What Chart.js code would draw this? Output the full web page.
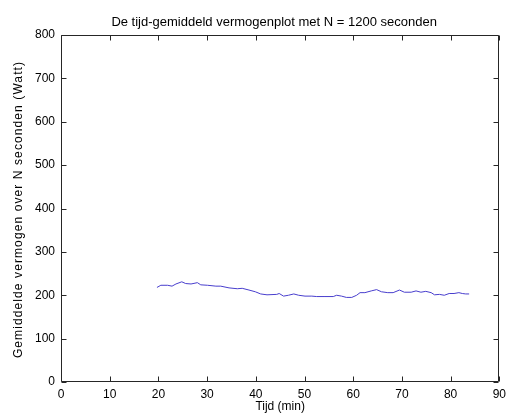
<!DOCTYPE html>
<html>
<head>
<meta charset="utf-8">
<script src="https://cdn.jsdelivr.net/npm/chart.js@4/dist/chart.umd.min.js"></script>
<style>
  html, body { margin: 0; padding: 0; background: #fff; }
  #wrap { width: 511px; height: 419px; }
</style>
</head>
<body>
<div id="wrap"><canvas id="c" width="511" height="419"></canvas></div>
<script>
// Tijd (min) en tijd-gemiddeld vermogen (Watt)
const tijd = [19.7, 20.5, 21.9, 22.8, 23.6, 24.8, 25.6, 26.7, 28.0, 28.7, 30.1, 31.8, 32.8, 34.5, 36.2, 37.2, 38.6, 39.9, 41.0, 42.3, 44.3, 44.8, 45.7, 46.7, 47.8, 48.8, 50.1, 51.5, 52.5, 54.2, 55.9, 56.6, 57.6, 58.6, 59.7, 60.7, 61.4, 62.4, 63.7, 64.8, 65.8, 67.1, 68.2, 69.5, 70.5, 71.9, 72.9, 73.9, 74.9, 76.0, 76.7, 77.7, 78.7, 79.7, 80.7, 81.7, 82.4, 83.1, 83.8];
const vermogen = [218, 223, 223, 221, 226, 231, 227, 226, 229, 224, 223, 221, 221, 217, 215, 216, 212, 208, 203, 201, 202, 204, 198, 200, 203, 200, 198, 198, 197, 197, 197, 200, 198, 195, 195, 200, 206, 206, 210, 213, 208, 206, 206, 212, 207, 207, 210, 207, 209, 206, 201, 202, 200, 204, 204, 206, 204, 203, 203];
const xTicks = [0, 10, 20, 30, 40, 50, 60, 70, 80, 90];
const yTicks = [0, 100, 200, 300, 400, 500, 600, 700, 800];

const titel = 'De tijd-gemiddeld vermogenplot met N = 1200 seconden';
const xTitel = 'Tijd (min)';
const yTitel = 'Gemiddelde vermogen over N seconden (Watt)';

const FONT = "'Liberation Sans', Arial, Helvetica, sans-serif";

// Box around the axes with inward tick marks on all four sides
const boxTicks = {
  id: 'boxTicks',
  afterDraw(chart) {
    const { ctx, chartArea: a, scales: { x, y } } = chart;
    const L = Math.round(a.left) + 0.5, R = Math.round(a.right) - 0.5;
    const T = Math.round(a.top) + 0.5, B = Math.round(a.bottom) - 0.5;
    const len = 5;
    ctx.save();
    ctx.strokeStyle = '#262626';
    ctx.lineWidth = 1;
    ctx.beginPath();
    ctx.rect(L, T, R - L, B - T);
    xTicks.forEach(v => {
      const px = Math.round(x.getPixelForValue(v)) + 0.5;
      ctx.moveTo(px, B); ctx.lineTo(px, B - len);
      ctx.moveTo(px, T); ctx.lineTo(px, T + len);
    });
    yTicks.forEach(v => {
      const py = Math.round(y.getPixelForValue(v)) + 0.5;
      ctx.moveTo(L, py); ctx.lineTo(L + len, py);
      ctx.moveTo(R, py); ctx.lineTo(R - len, py);
    });
    ctx.stroke();
    ctx.restore();
  }
};

// Plot title above the axes and the rotated y-axis label
const labels = {
  id: 'labels',
  afterDraw(chart) {
    const { ctx, chartArea: a } = chart;
    ctx.save();
    ctx.fillStyle = '#000';
    ctx.font = '13px ' + FONT;
    ctx.textAlign = 'center';
    ctx.textBaseline = 'alphabetic';
    ctx.fillText(titel, (a.left + a.right) / 2 - 6, 25.5);

    ctx.font = '12px ' + FONT;
    if ('letterSpacing' in ctx) ctx.letterSpacing = '1.1px';
    ctx.translate(18.5, (a.top + a.bottom) / 2 + 1);
    ctx.rotate(-Math.PI / 2);
    ctx.textBaseline = 'middle';
    ctx.fillText(yTitel, 0, 0);
    ctx.restore();
  }
};

new Chart(document.getElementById('c'), {
  type: 'line',
  data: {
    datasets: [{
      data: tijd.map((t, i) => ({ x: t, y: vermogen[i] })),
      borderColor: 'rgb(72, 62, 205)',
      borderWidth: 1,
      pointRadius: 0,
      tension: 0,
      fill: false
    }]
  },
  options: {
    responsive: false,
    animation: false,
    layout: { padding: { left: 0, right: 9, top: 35, bottom: 0 } },
    plugins: {
      legend: { display: false },
      tooltip: { enabled: false },
      title: { display: false }
    },
    scales: {
      x: {
        type: 'linear',
        min: 0, max: 90,
        afterBuildTicks(scale) { scale.ticks = xTicks.map(v => ({ value: v })); },
        afterFit(scale) { scale.height = 37; },
        grid: { display: false, drawTicks: false },
        border: { display: false },
        ticks: {
          color: '#000',
          padding: 5,
          maxRotation: 0,
          font: { family: FONT, size: 12 }
        },
        title: {
          display: true,
          text: xTitel,
          color: '#000',
          font: { family: FONT, size: 12 },
          padding: { top: 0, bottom: 5 }
        }
      },
      y: {
        type: 'linear',
        min: 0, max: 800,
        afterBuildTicks(scale) { scale.ticks = yTicks.map(v => ({ value: v })); },
        afterFit(scale) { scale.width = 61; },
        grid: { display: false, drawTicks: false },
        border: { display: false },
        ticks: {
          color: '#000',
          padding: 6,
          font: { family: FONT, size: 12 }
        },
        title: { display: false }
      }
    }
  },
  plugins: [boxTicks, labels]
});
</script>
</body>
</html>
